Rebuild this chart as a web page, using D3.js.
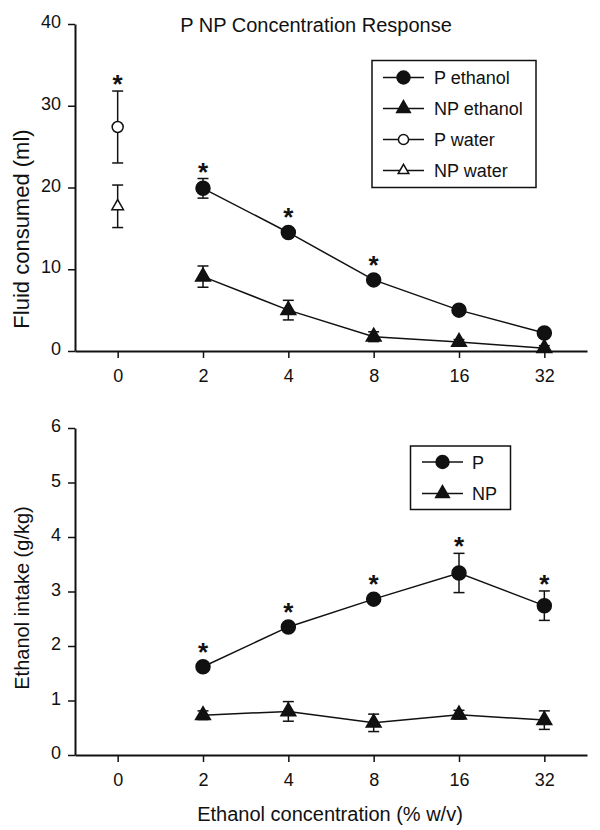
<!DOCTYPE html>
<html>
<head>
<meta charset="utf-8">
<script src="https://cdn.jsdelivr.net/npm/d3@7"></script>
<style>
  html, body { margin: 0; padding: 0; background: #fff; }
  svg { display: block; }
  text { font-family: "Liberation Sans", Arial, Helvetica, sans-serif; fill: #111; }
</style>
</head>
<body>
<svg id="chart" width="600" height="830"></svg>
<script>
// ---------- DATA ----------
const concentrations = ["0", "2", "4", "8", "16", "32"];
const ethanolConc = ["2", "4", "8", "16", "32"];
const waterConc = ["0"];

// Top panel: fluid consumed (ml)
const pEthanolMl = [19.9, 14.5, 8.7, 5.0, 2.2];
const pEthanolMlErr = [1.2, 0.5, 0.5, 0.4, 0.4];
const npEthanolMl = [9.1, 5.0, 1.75, 1.1, 0.35];
const npEthanolMlErr = [1.3, 1.2, 0.6, 0.3, 0.3];
const pWaterMl = [27.4];
const pWaterMlErr = [4.4];
const npWaterMl = [17.7];
const npWaterMlErr = [2.6];
const topStars = ["0", "2", "4", "8"];
const topYTicks = [0, 10, 20, 30, 40];

// Bottom panel: ethanol intake (g/kg)
const pIntake = [1.62, 2.35, 2.86, 3.34, 2.74];
const pIntakeErr = [0.05, 0.06, 0.07, 0.36, 0.27];
const npIntake = [0.73, 0.80, 0.59, 0.74, 0.64];
const npIntakeErr = [0.08, 0.18, 0.16, 0.08, 0.17];
const bottomStars = ["2", "4", "8", "16", "32"];
const bottomYTicks = [0, 1, 2, 3, 4, 5, 6];

const topLegendLabels = ["P ethanol", "NP ethanol", "P water", "NP water"];
const bottomLegendLabels = ["P", "NP"];

// ---------- DRAWING ----------
const svg = d3.select("#chart");
const ink = "#111";

const x = d3.scalePoint().domain(concentrations).range([75, 587]).padding(0.5);

const markerStyles = {
  circleFilled: { type: d3.symbolCircle, size: Math.PI * 7 * 7, fill: ink },
  triFilled: { type: d3.symbolTriangle, size: 95, fill: ink },
  circleOpen: { type: d3.symbolCircle, size: Math.PI * 5.5 * 5.5, fill: "#fff" },
  triOpen: { type: d3.symbolTriangle, size: 58, fill: "#fff" }
};

function drawAxes(g, y, ticks, yTop, yBottom) {
  const xa = g.append("g")
    .attr("transform", `translate(0,${yBottom})`)
    .call(d3.axisBottom(x).tickSize(7).tickSizeOuter(0).tickPadding(11));
  xa.select(".domain").attr("stroke", ink).attr("stroke-width", 2);
  xa.selectAll(".tick line").attr("stroke", ink).attr("stroke-width", 1.5);
  xa.selectAll(".tick text").attr("font-size", 18).attr("fill", ink)
    .style("font-family", '"Liberation Sans", Arial, sans-serif');

  const ya = g.append("g")
    .attr("transform", `translate(75,0)`)
    .call(d3.axisLeft(y).tickValues(ticks).tickFormat(d3.format("d"))
      .tickSize(7).tickSizeOuter(0).tickPadding(7));
  ya.select(".domain").attr("stroke", ink).attr("stroke-width", 2);
  ya.selectAll(".tick line").attr("stroke", ink).attr("stroke-width", 1.5);
  ya.selectAll(".tick text").attr("font-size", 18).attr("dy", "0.2em").attr("fill", ink)
    .style("font-family", '"Liberation Sans", Arial, sans-serif');
}

function drawSeries(g, y, cats, vals, errs, style, connect) {
  const pts = cats.map((c, i) => ({ c, v: vals[i], e: errs[i] }));
  if (connect) {
    g.append("path")
      .datum(pts)
      .attr("fill", "none")
      .attr("stroke", ink)
      .attr("stroke-width", 1.5)
      .attr("d", d3.line().x(d => x(d.c)).y(d => y(d.v)));
  }
  const eb = g.append("g").attr("stroke", ink).attr("stroke-width", 1.5);
  pts.forEach(d => {
    const cx = x(d.c), y1 = y(d.v + d.e), y2 = y(d.v - d.e);
    eb.append("line").attr("x1", cx).attr("x2", cx).attr("y1", y1).attr("y2", y2);
    eb.append("line").attr("x1", cx - 5.5).attr("x2", cx + 5.5).attr("y1", y1).attr("y2", y1);
    eb.append("line").attr("x1", cx - 5.5).attr("x2", cx + 5.5).attr("y1", y2).attr("y2", y2);
  });
  g.append("g").selectAll("path").data(pts).join("path")
    .attr("transform", d => `translate(${x(d.c)},${y(d.v)})`)
    .attr("d", d3.symbol().type(style.type).size(style.size))
    .attr("fill", style.fill)
    .attr("stroke", ink)
    .attr("stroke-width", 1.5);
}

function drawStars(g, y, cats, lookup) {
  cats.forEach(c => {
    const info = lookup(c);
    const top = Math.min(y(info.v + info.e), y(info.v) - 8);
    const cy = top - 12;
    g.append("text")
      .attr("x", x(c))
      .attr("y", cy + 14)
      .attr("text-anchor", "middle")
      .attr("font-size", 26)
      .attr("font-weight", "bold")
      .text("*");
  });
}

function drawLegend(g, box, entries) {
  g.append("rect")
    .attr("x", box.x).attr("y", box.y).attr("width", box.w).attr("height", box.h)
    .attr("fill", "#fff").attr("stroke", ink).attr("stroke-width", 1.5);
  entries.forEach((e, i) => {
    const cy = box.firstY + i * box.step;
    g.append("line")
      .attr("x1", box.lineX1).attr("x2", box.lineX2).attr("y1", cy).attr("y2", cy)
      .attr("stroke", ink).attr("stroke-width", 1.5);
    const st = e.style;
    g.append("path")
      .attr("transform", `translate(${(box.lineX1 + box.lineX2) / 2},${cy})`)
      .attr("d", d3.symbol().type(st.type).size(st.size * 0.85))
      .attr("fill", st.fill).attr("stroke", ink).attr("stroke-width", 1.5);
    g.append("text")
      .attr("x", box.textX).attr("y", cy + 6.5)
      .attr("font-size", 18)
      .text(e.label);
  });
}

// ----- Top panel -----
const yTop = d3.scaleLinear().domain([0, 40]).range([351, 24]);
const gTop = svg.append("g");
drawAxes(gTop, yTop, topYTicks, 24, 351);
drawSeries(gTop, yTop, ethanolConc, npEthanolMl, npEthanolMlErr, markerStyles.triFilled, true);
drawSeries(gTop, yTop, ethanolConc, pEthanolMl, pEthanolMlErr, markerStyles.circleFilled, true);
drawSeries(gTop, yTop, waterConc, pWaterMl, pWaterMlErr, markerStyles.circleOpen, false);
drawSeries(gTop, yTop, waterConc, npWaterMl, npWaterMlErr, markerStyles.triOpen, false);
drawStars(gTop, yTop, topStars, c => {
  if (c === "0") return { v: pWaterMl[0], e: pWaterMlErr[0] };
  const i = ethanolConc.indexOf(c);
  return { v: pEthanolMl[i], e: pEthanolMlErr[i] };
});

gTop.append("text")
  .attr("x", 316).attr("y", 31.5)
  .attr("text-anchor", "middle")
  .attr("font-size", 20)
  .text("P NP Concentration Response");

gTop.append("text")
  .attr("transform", "translate(29,229) rotate(-90)")
  .attr("text-anchor", "middle")
  .attr("font-size", 22)
  .text("Fluid consumed (ml)");

drawLegend(gTop, { x: 372, y: 60.5, w: 164, h: 127, firstY: 77.5, step: 31, lineX1: 383, lineX2: 424, textX: 434 },
  topLegendLabels.map((label, i) => ({
    label,
    style: [markerStyles.circleFilled, markerStyles.triFilled, markerStyles.circleOpen, markerStyles.triOpen][i]
  })));

// ----- Bottom panel -----
const yBot = d3.scaleLinear().domain([0, 6]).range([755, 428]);
const gBot = svg.append("g");
drawAxes(gBot, yBot, bottomYTicks, 428, 755);
drawSeries(gBot, yBot, ethanolConc, npIntake, npIntakeErr, markerStyles.triFilled, true);
drawSeries(gBot, yBot, ethanolConc, pIntake, pIntakeErr, markerStyles.circleFilled, true);
drawStars(gBot, yBot, bottomStars, c => {
  const i = ethanolConc.indexOf(c);
  return { v: pIntake[i], e: pIntakeErr[i] };
});

gBot.append("text")
  .attr("transform", "translate(29,598) rotate(-90)")
  .attr("text-anchor", "middle")
  .attr("font-size", 20)
  .text("Ethanol intake (g/kg)");

gBot.append("text")
  .attr("x", 330).attr("y", 821)
  .attr("text-anchor", "middle")
  .attr("font-size", 20)
  .text("Ethanol concentration (% w/v)");

drawLegend(gBot, { x: 410.5, y: 446, w: 100, h: 63.5, firstY: 462, step: 31.5, lineX1: 422, lineX2: 463, textX: 472 },
  bottomLegendLabels.map((label, i) => ({
    label,
    style: [markerStyles.circleFilled, markerStyles.triFilled][i]
  })));
</script>
</body>
</html>
